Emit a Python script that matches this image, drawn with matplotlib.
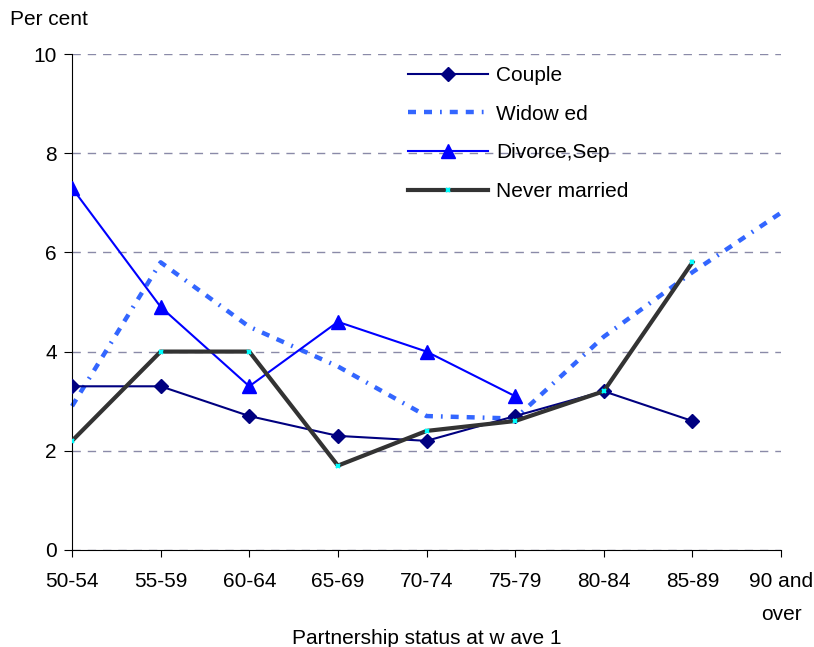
import matplotlib
matplotlib.use('Agg')
import matplotlib.pyplot as plt
import numpy as np

plt.rcParams['font.family'] = ['Liberation Sans', 'DejaVu Sans']

age_groups = ['50-54', '55-59', '60-64', '65-69', '70-74', '75-79', '80-84', '85-89', '90 and\nover']
couple = [3.3, 3.3, 2.7, 2.3, 2.2, 2.7, 3.2, 2.6, np.nan]
widowed = [2.9, 5.8, 4.5, 3.7, 2.7, 2.65, 4.3, 5.6, 6.8]
divorced = [7.3, 4.9, 3.3, 4.6, 4.0, 3.1, np.nan, np.nan, np.nan]
never_married = [2.2, 4.0, 4.0, 1.7, 2.4, 2.6, 3.2, 5.8, np.nan]

fig = plt.figure(figsize=(8.14, 6.47), dpi=100)
ax = fig.add_axes([0.0885, 0.15, 0.871, 0.7665])

x = np.arange(len(age_groups))

ax.plot(x, couple, color='#000080', lw=1.5, marker='D', ms=7.5,
        label='Couple', zorder=3)
ax.plot(x, widowed, color='#3366ff', lw=3.2, dashes=(1.8, 1.8, 1.8, 1.8, 0.4, 1.8),
        label='Widow ed', zorder=2, clip_on=False)
ax.plot(x, divorced, color='#0000ff', lw=1.5, marker='^', ms=10,
        label='Divorce,Sep', zorder=3)
ax.plot(x, never_married, color='#333333', lw=3, marker='x', ms=3.5,
        mec='#00ffff', mew=1.5, label='Never married', zorder=4)

ax.set_xlim(0, 8)
ax.set_ylim(0, 10)
ax.set_yticks([0, 2, 4, 6, 8, 10])
ax.set_xticks(x)
ax.set_xticklabels(age_groups, fontsize=15, linespacing=1.9, va='top',
                   multialignment='center')
ax.tick_params(axis='y', labelsize=15, direction='out', length=6, pad=5)
ax.tick_params(axis='x', direction='out', length=5, pad=11)

ax.yaxis.grid(True, color='#8a8aa8', linestyle=(0, (6, 5)), lw=1)
ax.set_axisbelow(True)
for side in ('top', 'right'):
    ax.spines[side].set_visible(False)

ax.set_xlabel('Partnership status at w ave 1', fontsize=15, labelpad=4)
fig.text(0.012, 0.97, 'Per cent', fontsize=15, va='center')

ax.legend(loc='upper left', bbox_to_anchor=(0.447, 1.014), frameon=False,
          fontsize=15, handlelength=3.85, labelspacing=0.95, handletextpad=0.4)

plt.savefig('out.png', dpi=100, facecolor='white')
plt.close()
